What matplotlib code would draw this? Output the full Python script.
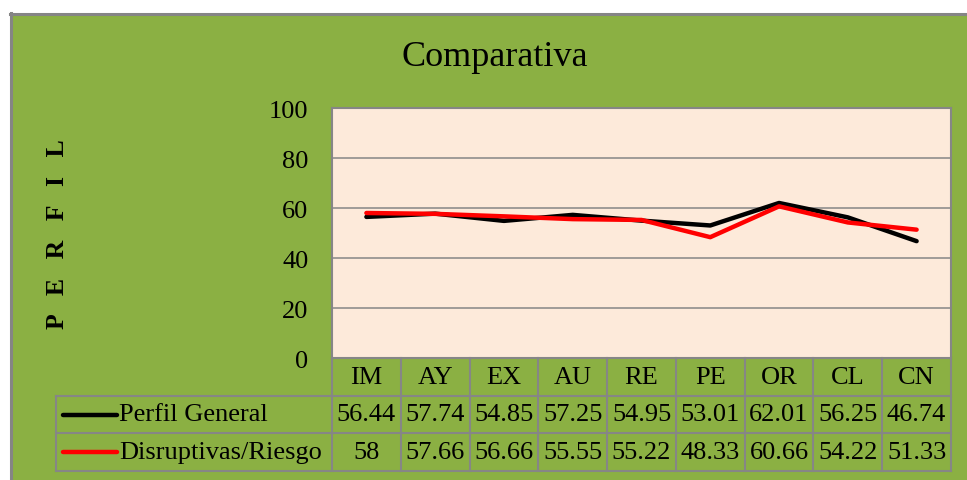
import matplotlib
matplotlib.use("Agg")
import matplotlib.pyplot as plt
from matplotlib.patches import Rectangle
from matplotlib.lines import Line2D
import matplotlib.transforms as mtransforms

categories = ["IM", "AY", "EX", "AU", "RE", "PE", "OR", "CL", "CN"]
perfil_general = [56.44, 57.74, 54.85, 57.25, 54.95, 53.01, 62.01, 56.25, 46.74]
disruptivas = [58, 57.66, 56.66, 55.55, 55.22, 48.33, 60.66, 54.22, 51.33]
series_names = ["Perfil General", "Disruptivas/Riesgo"]
series_colors = ["#000000", "#FF0000"]
yticks = [0, 20, 40, 60, 80, 100]

W, H = 967, 481
GREEN = "#8BB043"
PEACH = "#FDEADA"
GRID = "#868686"

plt.rcParams["font.family"] = ["Liberation Serif", "DejaVu Serif"]

fig = plt.figure(figsize=(W / 100, H / 100), dpi=100)
fig.patch.set_facecolor("white")


def fx(px):
    return px / W


def fy(py):
    return 1 - py / H


# chart background with grey frame on top/left
fig.patches.append(Rectangle((fx(10), 0), 1 - fx(10), fy(14), transform=fig.transFigure,
                             facecolor=GREEN, edgecolor="none", zorder=-10))
fig.add_artist(Line2D([fx(10), 1], [fy(15), fy(15)], color="#858585", lw=2.2, transform=fig.transFigure))
fig.add_artist(Line2D([fx(11), fx(11)], [0, fy(14)], color="#858585", lw=2.2, transform=fig.transFigure))

left, right, top, bottom = 332, 951, 109, 359
ax = fig.add_axes([fx(left), fy(bottom), fx(right) - fx(left), fy(top) - fy(bottom)])
ax.set_facecolor(PEACH)
x = list(range(len(categories)))
ax.plot(x, perfil_general, color=series_colors[0], lw=3.2, solid_capstyle="round", zorder=3)
ax.plot(x, disruptivas, color=series_colors[1], lw=3.2, solid_capstyle="round", zorder=4)
ax.set_xlim(-0.5, len(categories) - 0.5)
ax.set_ylim(0, 100)
ax.set_yticks(yticks)
ax.set_xticks([])
ax.tick_params(axis="y", length=0, pad=17, labelsize=19)
shift = mtransforms.ScaledTranslation(0, -3 / 100, fig.dpi_scale_trans)
for lab in ax.get_yticklabels():
    lab.set_va("center")
    lab.set_transform(lab.get_transform() + shift)
ax.grid(axis="y", color=GRID, lw=1.1)
ax.set_axisbelow(True)
for side in ["left", "top", "right"]:
    ax.spines[side].set_color(GRID)
    ax.spines[side].set_linewidth(1.5)
ax.spines["bottom"].set_visible(False)

fig.text(fx(495), fy(58), "Comparativa", fontsize=26, ha="center", va="center")
fig.text(fx(58), fy(234), "P   E   R   F   I   L", rotation=90, fontsize=18.5, fontweight="bold",
         ha="center", va="center")

# data table under the plot
bt = mtransforms.blended_transform_factory(ax.transData, fig.transFigure)
row_lines = [359, 397, 434, 472]
tkw = dict(color=GRID, lw=1.5, clip_on=False)
for i, yy in enumerate(row_lines):
    x0 = fx(left) if i == 0 else fx(56)
    fig.add_artist(Line2D([x0, fx(right)], [fy(yy), fy(yy)], transform=fig.transFigure, **tkw))
for k in range(len(categories) + 1):
    fig.add_artist(Line2D([k - 0.5, k - 0.5], [fy(359), fy(472)], transform=bt, **tkw))
fig.add_artist(Line2D([fx(56), fx(56)], [fy(397), fy(472)], transform=fig.transFigure, **tkw))

fs = 19
for k, c in enumerate(categories):
    fig.text(k, fy(378), c, transform=bt, ha="center", va="center", fontsize=fs)
for r, (vals, name, col) in enumerate(zip([perfil_general, disruptivas], series_names, series_colors)):
    yc = (row_lines[r + 1] + row_lines[r + 2]) / 2
    for k, v in enumerate(vals):
        fig.text(k, fy(yc), f"{v:g}", transform=bt, ha="center", va="center", fontsize=fs)
    fig.add_artist(Line2D([fx(63), fx(117)], [fy(yc), fy(yc)], color=col, lw=3.2,
                          solid_capstyle="round", transform=fig.transFigure))
    fig.text(fx(119), fy(yc), name, ha="left", va="center", fontsize=fs)

fig.savefig("out.png", dpi=100, facecolor=fig.get_facecolor())
